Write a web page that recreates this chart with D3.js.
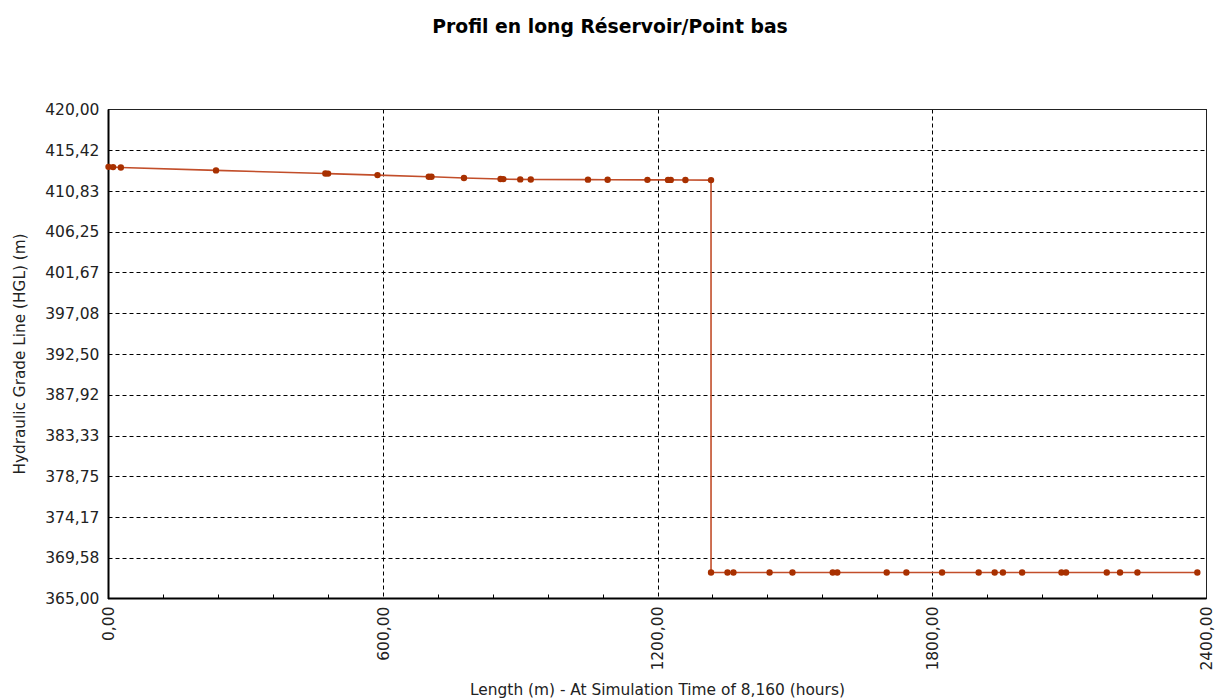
<!DOCTYPE html>
<html>
<head>
<meta charset="utf-8">
<script src="https://cdn.jsdelivr.net/npm/d3@7"></script>
<style>
  html, body { margin: 0; padding: 0; background: #ffffff; }
  svg { display: block; font-family: "DejaVu Sans", Verdana, sans-serif; }
</style>
</head>
<body>
<svg id="chart" width="1215" height="698"></svg>
<script>
// Hydraulic grade line along the pipe profile (distance in m, HGL in m)
const nodeDistance = [
  0, 10, 27, 235, 474, 480, 588, 700, 706, 777, 857, 863, 900, 923,
  1048, 1091, 1178, 1223, 1229, 1261, 1317,
  1317, 1353, 1366, 1445, 1495, 1583, 1593, 1701, 1744, 1822, 1902,
  1937, 1955, 1997, 2083, 2093, 2182, 2211, 2249, 2380
];
const nodeHGL = [
  413.55, 413.52, 413.48, 413.15, 412.80, 412.79, 412.62, 412.44, 412.43, 412.30, 412.18, 412.17, 412.14, 412.13,
  412.11, 412.10, 412.09, 412.08, 412.08, 412.07, 412.06,
  367.93, 367.93, 367.93, 367.93, 367.93, 367.93, 367.93, 367.93, 367.93, 367.93, 367.93,
  367.93, 367.93, 367.93, 367.93, 367.93, 367.93, 367.93, 367.93, 367.93
];

const xTickValues = [0, 600, 1200, 1800, 2400];
const xMinorStep = 120;
const yTickValues = [365.00, 369.58, 374.17, 378.75, 383.33, 387.92, 392.50,
                     397.08, 401.67, 406.25, 410.83, 415.42, 420.00];

const chartTitle = "Profil en long Réservoir/Point bas";
const xTitle = "Length (m) - At Simulation Time of 8,160 (hours)";
const yTitle = "Hydraulic Grade Line (HGL) (m)";

const points = nodeDistance.map((d, i) => ({ x: d, y: nodeHGL[i] }));

const svg = d3.select("#chart");
const plot = { left: 108.5, top: 109.5, right: 1206.5, bottom: 598.5 };

const x = d3.scaleLinear().domain([0, 2400]).range([plot.left, plot.right]);
const y = d3.scaleLinear().domain([365, 420]).range([plot.bottom, plot.top]);

const fr = d3.formatLocale({ decimal: ",", thousands: " ", grouping: [3], currency: ["", ""] });
const fmt = fr.format(".2f");

const lineColor = "#c24e2a";
const markerColor = "#a83000";

// Title
svg.append("text")
  .attr("x", 610).attr("y", 33)
  .attr("text-anchor", "middle")
  .attr("font-size", 18.8).attr("font-weight", "bold")
  .attr("fill", "#000")
  .text(chartTitle);

// Horizontal grid
svg.append("g")
  .selectAll("line")
  .data(yTickValues.filter(v => v > 365 && v < 420))
  .join("line")
  .attr("x1", plot.left).attr("x2", plot.right)
  .attr("y1", d => Math.round(y(d)) + 0.5).attr("y2", d => Math.round(y(d)) + 0.5)
  .attr("stroke", "#000").attr("stroke-width", 1)
  .attr("stroke-dasharray", "4,3");

// Vertical grid
svg.append("g")
  .selectAll("line")
  .data(xTickValues.filter(v => v > 0 && v < 2400))
  .join("line")
  .attr("x1", d => Math.round(x(d)) + 0.5).attr("x2", d => Math.round(x(d)) + 0.5)
  .attr("y1", plot.top).attr("y2", plot.bottom)
  .attr("stroke", "#000").attr("stroke-width", 1)
  .attr("stroke-dasharray", "4,3");

// Minor ticks on the x axis, drawn inward
const minorTicks = d3.range(0, 2400 + 1, xMinorStep).filter(v => xTickValues.indexOf(v) < 0);
svg.append("g")
  .selectAll("line")
  .data(minorTicks)
  .join("line")
  .attr("x1", d => Math.round(x(d)) + 0.5).attr("x2", d => Math.round(x(d)) + 0.5)
  .attr("y1", plot.bottom).attr("y2", plot.bottom - 4)
  .attr("stroke", "#000").attr("stroke-width", 1);

// Frame
svg.append("rect")
  .attr("x", plot.left).attr("y", plot.top)
  .attr("width", plot.right - plot.left).attr("height", plot.bottom - plot.top)
  .attr("fill", "none").attr("stroke", "#222").attr("stroke-width", 1);
svg.append("line")
  .attr("x1", plot.left).attr("x2", plot.left)
  .attr("y1", plot.top).attr("y2", plot.bottom + 0.5)
  .attr("stroke", "#000").attr("stroke-width", 2);
svg.append("line")
  .attr("x1", plot.left - 0.5).attr("x2", plot.right)
  .attr("y1", plot.bottom).attr("y2", plot.bottom)
  .attr("stroke", "#000").attr("stroke-width", 2);

// Y axis labels
svg.append("g")
  .selectAll("text")
  .data(yTickValues)
  .join("text")
  .attr("x", plot.left - 9)
  .attr("y", d => y(d))
  .attr("dy", "0.36em")
  .attr("text-anchor", "end")
  .attr("font-size", 15.5)
  .attr("fill", "#222")
  .text(d => fmt(d));

// X axis labels (rotated)
svg.append("g")
  .selectAll("text")
  .data(xTickValues)
  .join("text")
  .attr("transform", d => `translate(${x(d)},${plot.bottom + 8}) rotate(-90)`)
  .attr("dy", "0.36em")
  .attr("text-anchor", "end")
  .attr("font-size", 15.5)
  .attr("fill", "#222")
  .text(d => fmt(d));

// Axis titles
svg.append("text")
  .attr("x", (plot.left + plot.right) / 2).attr("y", 695)
  .attr("text-anchor", "middle")
  .attr("font-size", 15.4)
  .attr("fill", "#222")
  .text(xTitle);

svg.append("text")
  .attr("transform", `translate(25,${(plot.top + plot.bottom) / 2}) rotate(-90)`)
  .attr("text-anchor", "middle")
  .attr("font-size", 15.3)
  .attr("fill", "#222")
  .text(yTitle);

// Profile line
const line = d3.line().x(d => x(d.x)).y(d => y(d.y));
svg.append("path")
  .datum(points)
  .attr("d", line)
  .attr("fill", "none")
  .attr("stroke", lineColor)
  .attr("stroke-width", 1.6);

// Node markers
svg.append("g")
  .selectAll("path")
  .data(points)
  .join("path")
  .attr("transform", d => `translate(${x(d.x)},${y(d.y)})`)
  .attr("d", d3.symbol(d3.symbolCircle, 32))
  .attr("fill", markerColor);
</script>
</body>
</html>
